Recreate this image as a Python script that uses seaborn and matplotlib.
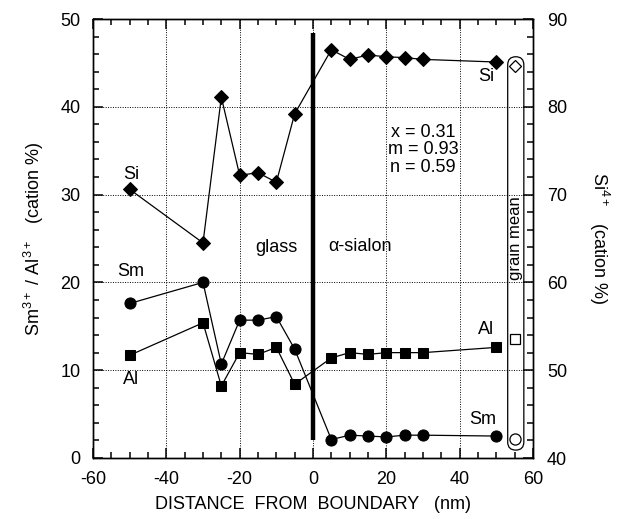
import matplotlib
matplotlib.use("Agg")
import matplotlib.pyplot as plt
import seaborn as sns
import numpy as np
import pandas as pd
from matplotlib.patches import FancyBboxPatch
from matplotlib.ticker import MultipleLocator

# ---- data ----
dist = [-50, -30, -25, -20, -15, -10, -5, 5, 10, 15, 20, 25, 30, 50]
si_vals = [70.6, 64.5, 81.1, 72.2, 72.5, 71.4, 79.2, 86.5, 85.4, 85.9, 85.7, 85.6, 85.4, 85.1]
sm_vals = [17.6, 20.0, 10.7, 15.7, 15.7, 16.1, 12.4, 2.1, 2.6, 2.5, 2.4, 2.6, 2.6, 2.5]
al_vals = [11.7, 15.4, 8.2, 12.0, 11.8, 12.6, 8.4, 11.4, 12.0, 11.8, 12.0, 12.0, 12.0, 12.6]
grain_x = 55
grain_si = 84.6
grain_sm = 2.2
grain_al = 13.5
boundary_x = [0, 0]
boundary_y = [2.0, 48.4]

sns.set_style("ticks")
plt.rcParams.update({
    'font.family': ['Liberation Sans', 'DejaVu Sans'],
    'axes.unicode_minus': False,
    'text.color': 'black', 'axes.labelcolor': 'black', 'axes.edgecolor': 'black',
    'xtick.color': 'black', 'ytick.color': 'black',
    'xtick.direction': 'in', 'ytick.direction': 'in',
    'xtick.top': True, 'xtick.bottom': True, 'ytick.left': True, 'ytick.right': True,
    'xtick.major.size': 7, 'ytick.major.size': 7,
    'xtick.minor.size': 4.5, 'ytick.minor.size': 4.5,
    'xtick.major.width': 1.1, 'ytick.major.width': 1.1,
    'xtick.minor.width': 1.1, 'ytick.minor.width': 1.1,
})

fig, ax = plt.subplots(figsize=(6.3, 5.19), dpi=100)
fig.subplots_adjust(left=93/630, right=533/630, bottom=1-458/519, top=1-19/519)
ax2 = ax.twinx()

df = pd.DataFrame({"dist": dist, "si": si_vals, "sm": sm_vals, "al": al_vals})

lw = 0.9
sns.lineplot(data=df, x="dist", y="sm", ax=ax, color="black", lw=lw, marker="o",
             markersize=8, markeredgecolor="black", markerfacecolor="black", sort=False)
sns.lineplot(data=df, x="dist", y="al", ax=ax, color="black", lw=lw, marker="s",
             markersize=7.5, markeredgecolor="black", markerfacecolor="black", sort=False)
sns.lineplot(data=df, x="dist", y="si", ax=ax2, color="black", lw=lw, marker="D",
             markersize=7, markeredgecolor="black", markerfacecolor="black", sort=False)

# grain mean open markers
ax.plot([grain_x], [grain_sm], marker="o", markersize=8, mfc="white", mec="black", mew=0.9, ls="none")
ax.plot([grain_x], [grain_al], marker="s", markersize=7.5, mfc="white", mec="black", mew=0.9, ls="none")
ax2.plot([grain_x], [grain_si], marker="D", markersize=6.5, mfc="white", mec="black", mew=0.9, ls="none")

# boundary line
ax.plot(boundary_x, boundary_y, color="black", lw=3.2, solid_capstyle="butt")

ax.set_xlim(-60, 60)
ax.set_ylim(0, 50)
ax2.set_ylim(40, 90)

ax.xaxis.set_major_locator(MultipleLocator(20))
ax.xaxis.set_minor_locator(MultipleLocator(5))
ax.yaxis.set_major_locator(MultipleLocator(10))
ax.yaxis.set_minor_locator(MultipleLocator(2))
ax2.yaxis.set_major_locator(MultipleLocator(10))
ax2.yaxis.set_minor_locator(MultipleLocator(2))

ax.grid(True, which="major", color="black", ls=(0, (1, 1.5)), lw=0.7)
ax2.grid(False)

fs = 13
ax.set_xlabel("DISTANCE  FROM  BOUNDARY   (nm)", fontsize=fs, labelpad=6)
ax.set_ylabel(r"Sm$^{\mathregular{3+}}$ / Al$^{\mathregular{3+}}$   (cation %)", fontsize=fs, labelpad=10)
ax2.set_ylabel(r"Si$^{\mathregular{4+}}$   (cation %)", fontsize=fs, rotation=270, labelpad=32)

# capsule for grain mean
cap = FancyBboxPatch((53.1, 0.9), 4.4, 44.8,
                     boxstyle="round,pad=0,rounding_size=2.2",
                     mutation_aspect=0.42, fc="none", ec="black", lw=0.9, zorder=3)
ax.add_patch(cap)
ax.text(55.2, 25, "grain mean", rotation=90, ha="center", va="center", fontsize=12)

# labels
ax.text(-49.6, 32.3, "Si", ha="center", va="center", fontsize=fs)
ax.text(-49.6, 21.2, "Sm", ha="center", va="center", fontsize=fs)
ax.text(-49.6, 8.9, "Al", ha="center", va="center", fontsize=fs)
ax.text(-10, 24.0, "glass", ha="center", va="center", fontsize=fs)
ax.text(12.9, 24.1, "α-sialon", ha="center", va="center", fontsize=fs)
ax.text(47.2, 43.4, "Si", ha="center", va="center", fontsize=fs)
ax.text(47.2, 14.6, "Al", ha="center", va="center", fontsize=fs)
ax.text(46.3, 4.4, "Sm", ha="center", va="center", fontsize=fs)
ax.text(30, 35.1, "x = 0.31\nm = 0.93\nn = 0.59", ha="center", va="center", fontsize=fs,
        linespacing=1.05, bbox=dict(fc="white", ec="none", pad=0.5), zorder=5)

for a in (ax, ax2):
    for s in a.spines.values():
        s.set_linewidth(1.0)
        s.set_color("black")

# ticks (applied last)
ax.tick_params(axis="x", which="both", direction="in", top=True, bottom=True,
               labelsize=fs, pad=9, colors="black")
ax.tick_params(axis="y", which="both", direction="in", left=True, right=False,
               labelsize=fs, pad=9, colors="black")
ax2.tick_params(axis="y", which="both", direction="in", right=True, left=False,
                labelsize=fs, pad=10, colors="black")
for a in (ax, ax2):
    a.tick_params(which="major", length=7, width=1.1)
    a.tick_params(which="minor", length=4.5, width=1.1)

fig.savefig("out.png", dpi=100)
